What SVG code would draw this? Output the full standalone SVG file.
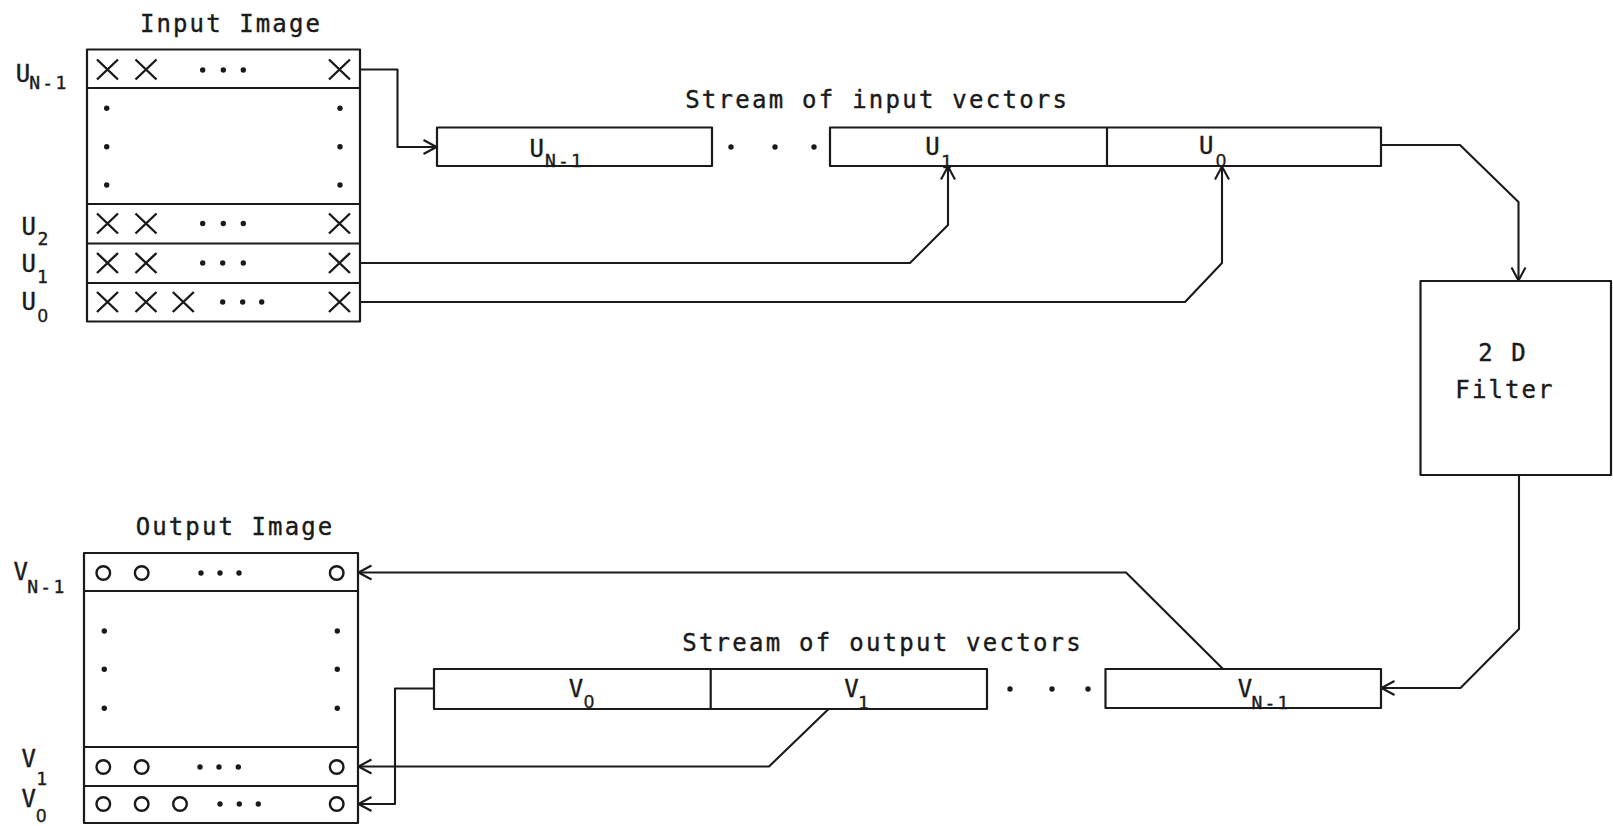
<svg xmlns="http://www.w3.org/2000/svg" xmlns:xlink="http://www.w3.org/1999/xlink" width="1613" height="826" viewBox="0 0 1613 826">
<style>
.ln{fill:none;stroke:#1a1a1a;stroke-width:2.2;stroke-linejoin:round}
.cn{fill:none;stroke:#1a1a1a;stroke-width:2.1;stroke-linejoin:round;marker-end:url(#ah)}
.t{font-family:"DejaVu Sans Mono","Liberation Mono",monospace;font-size:24px;fill:#1a1a1a;stroke:#1a1a1a;stroke-width:0.4;text-anchor:middle;letter-spacing:2.1px}
.l{font-family:"DejaVu Sans Mono","Liberation Mono",monospace;font-size:24px;fill:#1a1a1a;stroke:#1a1a1a;stroke-width:0.4;text-anchor:middle}
.s{font-family:"DejaVu Sans Mono","Liberation Mono",monospace;font-size:18px;fill:#1a1a1a;stroke:#1a1a1a;stroke-width:0.4;text-anchor:middle;letter-spacing:2.2px}
.z{font-family:"Liberation Sans","DejaVu Sans",sans-serif;font-size:18px;fill:#1a1a1a;stroke:#1a1a1a;stroke-width:0.4;text-anchor:middle}
.d{fill:#1a1a1a}
.x{fill:none;stroke:#1a1a1a;stroke-width:2.4}
.o{fill:none;stroke:#1a1a1a;stroke-width:2.4}
</style>
<defs>
<marker id="ah" markerUnits="userSpaceOnUse" markerWidth="16" markerHeight="20" viewBox="-15 -10 16 20" refX="0" refY="0" orient="auto">
<path d="M -13 -7 L 0 0 L -13 7" fill="none" stroke="#1a1a1a" stroke-width="2.1" stroke-linejoin="round"/>
</marker>
<path id="xm" class="x" d="M -10.5 -10 L 10.5 10 M 10.5 -10 L -10.5 10"/>
<circle id="om" class="o" r="6.8"/>
<circle id="dt" class="d" r="2.7"/>
</defs>
<rect width="1613" height="826" fill="#fff"/>

<g id="input-image">
<text class="t" x="231" y="32">Input Image</text>
<rect class="ln" x="87" y="49.5" width="273" height="272"/>
<path class="ln" d="M87 88H360M87 204H360M87 243.5H360M87 283H360"/>
<use xlink:href="#xm" x="107.5" y="69.5"/><use xlink:href="#xm" x="146" y="69.5"/><use xlink:href="#xm" x="339.5" y="69.5"/>
<use xlink:href="#dt" x="202.7" y="70"/><use xlink:href="#dt" x="223.3" y="70"/><use xlink:href="#dt" x="243.3" y="70"/>
<use xlink:href="#dt" x="106.7" y="108.3"/><use xlink:href="#dt" x="106.7" y="146.7"/><use xlink:href="#dt" x="106.7" y="185"/>
<use xlink:href="#dt" x="340" y="108.3"/><use xlink:href="#dt" x="340" y="146.7"/><use xlink:href="#dt" x="340" y="185"/>
<use xlink:href="#xm" x="107.5" y="223.5"/><use xlink:href="#xm" x="146" y="223.5"/><use xlink:href="#xm" x="339.5" y="223.5"/>
<use xlink:href="#dt" x="202.7" y="223.5"/><use xlink:href="#dt" x="223.3" y="223.5"/><use xlink:href="#dt" x="243.3" y="223.5"/>
<use xlink:href="#xm" x="107.5" y="263"/><use xlink:href="#xm" x="146" y="263"/><use xlink:href="#xm" x="339.5" y="263"/>
<use xlink:href="#dt" x="202.7" y="263"/><use xlink:href="#dt" x="222.7" y="263"/><use xlink:href="#dt" x="243.3" y="263"/>
<use xlink:href="#xm" x="107.5" y="302"/><use xlink:href="#xm" x="146" y="302"/><use xlink:href="#xm" x="183.3" y="302"/><use xlink:href="#xm" x="339.5" y="302"/>
<use xlink:href="#dt" x="222.7" y="302"/><use xlink:href="#dt" x="242.7" y="302"/><use xlink:href="#dt" x="261.7" y="302"/>
<text class="l" x="23" y="82">U</text><text class="s" x="48.9" y="89">N-1</text>
<text class="l" x="28.8" y="235">U</text><text class="s" x="44.1" y="245">2</text>
<text class="l" x="28.8" y="271.7">U</text><text class="s" x="43.6" y="283.3">1</text>
<text class="l" x="28.8" y="310">U</text><text class="z" x="42.7" y="321.7">0</text>
</g>

<g id="input-stream">
<text class="t" x="877.2" y="108" style="letter-spacing:2.25px">Stream of input vectors</text>
<rect class="ln" x="437" y="127.5" width="275" height="38.5"/>
<use xlink:href="#dt" x="731" y="147"/><use xlink:href="#dt" x="775" y="147"/><use xlink:href="#dt" x="814" y="147"/>
<rect class="ln" x="830" y="127.5" width="551" height="38.5"/>
<path class="ln" d="M1107 127.5V166"/>
<text class="l" x="536.7" y="156.7">U</text><text class="s" x="564.5" y="166.7">N-1</text>
<text class="l" x="932.5" y="155">U</text><text class="s" x="947.6" y="167.7">1</text>
<text class="l" x="1206.2" y="154">U</text><text class="z" x="1221" y="167">0</text>
</g>

<g id="filter">
<rect class="ln" x="1420.5" y="281" width="190.5" height="194"/>
<text class="t" x="1503" y="360.5">2 D</text>
<text class="t" x="1505" y="398">Filter</text>
</g>

<g id="output-stream">
<text class="t" x="882.6" y="651" style="letter-spacing:2.25px">Stream of output vectors</text>
<rect class="ln" x="434" y="669" width="553" height="40"/>
<path class="ln" d="M710.7 669V709"/>
<rect class="ln" x="1105.5" y="669" width="275.5" height="39"/>
<use xlink:href="#dt" x="1010" y="689"/><use xlink:href="#dt" x="1052" y="689"/><use xlink:href="#dt" x="1088" y="689"/>
<text class="l" x="576" y="697">V</text><text class="z" x="589" y="708">0</text>
<text class="l" x="851.5" y="696.7">V</text><text class="s" x="864.4" y="709">1</text>
<text class="l" x="1245" y="696.7">V</text><text class="s" x="1271.1" y="709">N-1</text>
</g>

<g id="output-image">
<text class="t" x="235" y="535">Output Image</text>
<rect class="ln" x="84" y="553" width="274" height="270"/>
<path class="ln" d="M84 591H358M84 747H358M84 786H358"/>
<use xlink:href="#om" x="103.3" y="573"/><use xlink:href="#om" x="141.7" y="573"/><use xlink:href="#om" x="336.7" y="573"/>
<use xlink:href="#dt" x="201" y="573"/><use xlink:href="#dt" x="220" y="573"/><use xlink:href="#dt" x="239" y="573"/>
<use xlink:href="#dt" x="104.3" y="631"/><use xlink:href="#dt" x="104.3" y="669.3"/><use xlink:href="#dt" x="104.3" y="708.3"/>
<use xlink:href="#dt" x="337.3" y="631"/><use xlink:href="#dt" x="337.3" y="669.3"/><use xlink:href="#dt" x="337.3" y="708.3"/>
<use xlink:href="#om" x="103.3" y="767"/><use xlink:href="#om" x="141.7" y="767"/><use xlink:href="#om" x="336.7" y="767"/>
<use xlink:href="#dt" x="200" y="767"/><use xlink:href="#dt" x="219" y="767"/><use xlink:href="#dt" x="238.3" y="767"/>
<use xlink:href="#om" x="103.3" y="804"/><use xlink:href="#om" x="141.7" y="804"/><use xlink:href="#om" x="180" y="804"/><use xlink:href="#om" x="336.7" y="804"/>
<use xlink:href="#dt" x="220" y="804"/><use xlink:href="#dt" x="239.3" y="804"/><use xlink:href="#dt" x="258.3" y="804"/>
<text class="l" x="20.8" y="580">V</text><text class="s" x="46.9" y="593.3">N-1</text>
<text class="l" x="28.8" y="766.7">V</text><text class="s" x="42.8" y="785">1</text>
<text class="l" x="28.8" y="806.7">V</text><text class="z" x="41.3" y="821.7">0</text>
</g>

<g id="connectors">
<path class="cn" d="M360 69.5H397.5V147H436.5"/>
<path class="cn" d="M360 263H910L948 225V166.5"/>
<path class="cn" d="M360 302H1185L1222 263V166.5"/>
<path class="cn" d="M1381 145H1460L1518.5 202V280.5"/>
<path class="cn" d="M1519 475V629L1460.5 688H1381.5"/>
<path class="cn" d="M1223 669L1126 572.5H358.5"/>
<path class="cn" d="M828.6 709L769 766.5H358.5"/>
<path class="cn" d="M434 688.5H395V804H358.5"/>
</g>
</svg>
